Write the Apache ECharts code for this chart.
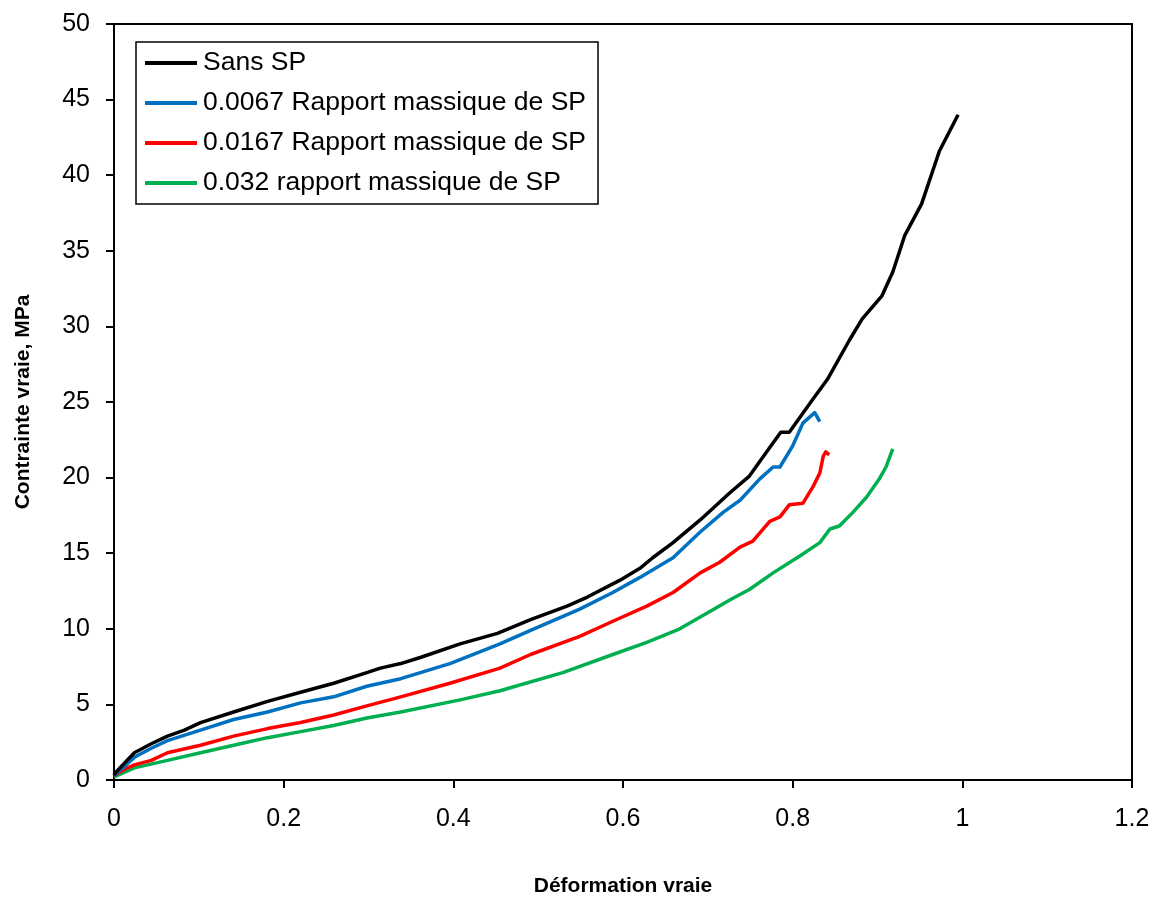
<!DOCTYPE html>
<html>
<head>
<meta charset="utf-8">
<script src="https://cdn.jsdelivr.net/npm/echarts@6/dist/echarts.min.js"></script>
<style>
html,body{margin:0;padding:0;background:#fff;}
#chart{width:1153px;height:904px;}
</style>
</head>
<body>
<div id="chart"></div>
<script>
// Legend names
const seriesNames = [
  "Sans SP",
  "0.0067 Rapport massique de SP",
  "0.0167 Rapport massique de SP",
  "0.032 rapport massique de SP"
];
const seriesColors = ["#000000", "#0070C0", "#FF0000", "#00B050"];

// Sans SP: [true strain, true stress MPa]
const sansSP = [
  [0,0.3],[0.002,0.5],[0.012,1.1],[0.024,1.8],[0.044,2.4],[0.063,2.9],[0.083,3.3],
  [0.102,3.8],[0.141,4.5],[0.181,5.2],[0.22,5.8],[0.259,6.4],[0.298,7.1],[0.314,7.4],
  [0.338,7.7],[0.361,8.1],[0.408,9.0],[0.452,9.7],[0.491,10.6],[0.534,11.5],[0.558,12.1],
  [0.596,13.2],[0.62,14.0],[0.635,14.7],[0.659,15.7],[0.691,17.2],[0.726,19.0],
  [0.749,20.1],[0.777,22.3],[0.786,23.0],[0.796,23.0],[0.824,25.2],[0.841,26.5],
  [0.867,29.1],[0.882,30.5],[0.905,32.0],[0.918,33.6],[0.932,36.0],[0.952,38.1],
  [0.973,41.6],[0.995,44.0]
];
// 0.0067 mass ratio
const sp0067 = [
  [0,0.3],[0.012,0.9],[0.024,1.5],[0.044,2.1],[0.063,2.6],[0.102,3.3],[0.141,4.0],
  [0.181,4.5],[0.22,5.1],[0.259,5.5],[0.298,6.2],[0.338,6.7],[0.396,7.7],[0.455,9.0],
  [0.491,9.9],[0.549,11.3],[0.588,12.4],[0.62,13.4],[0.659,14.7],[0.691,16.4],
  [0.718,17.7],[0.738,18.5],[0.761,19.9],[0.777,20.7],[0.785,20.7],[0.8,22.1],
  [0.812,23.6],[0.826,24.3],[0.832,23.7]
];
// 0.0167 mass ratio
const sp0167 = [
  [0,0.3],[0.012,0.7],[0.024,1.0],[0.044,1.3],[0.063,1.8],[0.102,2.3],[0.141,2.9],
  [0.181,3.4],[0.22,3.8],[0.259,4.3],[0.298,4.9],[0.338,5.5],[0.396,6.4],[0.455,7.4],
  [0.491,8.3],[0.549,9.5],[0.588,10.5],[0.628,11.5],[0.659,12.4],[0.691,13.7],
  [0.714,14.4],[0.738,15.4],[0.753,15.8],[0.773,17.1],[0.785,17.4],[0.796,18.2],
  [0.812,18.3],[0.824,19.4],[0.832,20.3],[0.836,21.4],[0.839,21.7],[0.843,21.5]
];
// 0.032 mass ratio
const sp032 = [
  [0,0.2],[0.012,0.5],[0.024,0.8],[0.063,1.3],[0.102,1.8],[0.141,2.3],[0.181,2.8],
  [0.22,3.2],[0.259,3.6],[0.298,4.1],[0.338,4.5],[0.408,5.3],[0.455,5.9],[0.529,7.1],
  [0.588,8.3],[0.628,9.1],[0.667,10.0],[0.729,12.0],[0.749,12.6],[0.777,13.7],
  [0.808,14.8],[0.832,15.7],[0.844,16.6],[0.855,16.8],[0.871,17.7],[0.887,18.7],
  [0.902,19.9],[0.91,20.7],[0.918,21.9]
];
const seriesData = [sansSP, sp0067, sp0167, sp032];

const xTitle = "Déformation vraie";
const yTitle = "Contrainte vraie, MPa";

const FONT = "'Liberation Sans', Arial, sans-serif";
const chart = echarts.init(document.getElementById('chart'), null, {renderer: 'canvas'});
chart.setOption({
  animation: false,
  backgroundColor: '#fff',
  grid: {
    left: 114, right: 21, top: 24, bottom: 124,
    show: true, borderColor: '#000', borderWidth: 2, backgroundColor: 'transparent'
  },
  legend: {
    orient: 'vertical',
    left: 136, top: 42,
    padding: [7, 12, 7, 9],
    itemGap: 12,
    itemWidth: 52, itemHeight: 4,
    icon: 'rect',
    borderColor: '#000', borderWidth: 1.5,
    backgroundColor: '#fff',
    textStyle: {fontFamily: FONT, fontSize: 26.5, color: '#000', lineHeight: 28, padding: [0,0,0,1]},
    data: seriesNames
  },
  xAxis: {
    type: 'value', min: 0, max: 1.2, interval: 0.2,
    name: xTitle, nameLocation: 'middle', nameGap: 96,
    nameTextStyle: {fontFamily: FONT, fontSize: 21, fontWeight: 'bold', color: '#000'},
    axisLine: {show: true, onZero: false, lineStyle: {color: '#000', width: 2}},
    axisTick: {show: true, inside: false, length: 8, lineStyle: {color: '#000', width: 2}},
    axisLabel: {fontFamily: FONT, fontSize: 25, color: '#000', margin: 27},
    splitLine: {show: false}
  },
  yAxis: {
    type: 'value', min: 0, max: 50, interval: 5,
    name: yTitle, nameLocation: 'middle', nameGap: 80,
    nameTextStyle: {fontFamily: FONT, fontSize: 21, fontWeight: 'bold', color: '#000'},
    axisLine: {show: true, onZero: false, lineStyle: {color: '#000', width: 2}},
    axisTick: {show: true, inside: false, length: 8, lineStyle: {color: '#000', width: 2}},
    axisLabel: {fontFamily: FONT, fontSize: 25, color: '#000', margin: 24},
    splitLine: {show: false}
  },
  series: seriesNames.map((n, i) => ({
    name: n,
    type: 'line',
    data: seriesData[i],
    showSymbol: false,
    symbol: 'none',
    color: seriesColors[i],
    lineStyle: {color: seriesColors[i], width: 3.5, join: 'round'},
    z: 10 - i
  }))
});
</script>
</body>
</html>
